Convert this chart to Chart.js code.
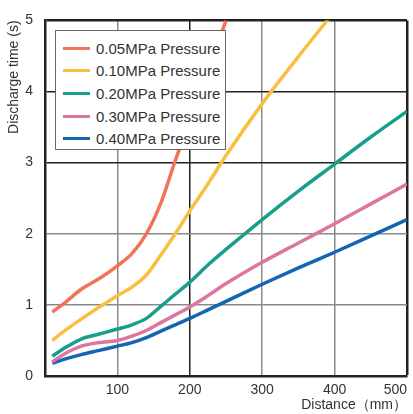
<!DOCTYPE html>
<html>
<head>
<meta charset="utf-8">
<script src="https://cdn.jsdelivr.net/npm/chart.js@4"></script>
<style>
  html, body { margin: 0; padding: 0; background: #fff; }
  #wrap { position: relative; width: 413px; height: 414px; }
  #legenda {
    position: absolute; left: 55px; top: 30px; width: 171px; height: 120px;
    border: 1px solid #666; background: #fff; box-sizing: border-box;
    font-family: "Liberation Sans", Arial, sans-serif; font-size: 15px; color: #333;
    padding-top: 6px;
  }
  .item { display: flex; align-items: center; height: 22.6px; }
  .amostra { width: 27px; height: 3px; margin: 0 6px 0 7px; }
</style>
</head>
<body>
<div id="wrap">
  <canvas id="grafico"></canvas>
  <div id="legenda"></div>
</div>
<script>
const distancias = [10, 25, 50, 75, 100, 120, 140, 160, 180, 200, 225, 250, 300, 350, 400, 450, 500];
const pressao005 = [0.9, 1.01, 1.22, 1.37, 1.55, 1.72, 2.0, 2.43, 3.03, 3.58, 4.28, 5.0, null, null, null, null, null];
const pressao010 = [0.5, 0.62, 0.8, 0.97, 1.13, 1.25, 1.42, 1.7, 2.0, 2.32, 2.7, 3.1, 3.83, 4.49, 5.13, null, null];
const pressao020 = [0.28, 0.38, 0.52, 0.59, 0.66, 0.72, 0.81, 0.98, 1.15, 1.32, 1.56, 1.78, 2.2, 2.6, 2.98, 3.36, 3.72];
const pressao030 = [0.2, 0.3, 0.42, 0.47, 0.5, 0.56, 0.64, 0.75, 0.86, 0.97, 1.13, 1.3, 1.6, 1.87, 2.14, 2.42, 2.7];
const pressao040 = [0.18, 0.23, 0.3, 0.36, 0.42, 0.47, 0.54, 0.63, 0.72, 0.81, 0.93, 1.05, 1.29, 1.52, 1.74, 1.97, 2.2];

const rotulos = ['0.05MPa Pressure', '0.10MPa Pressure', '0.20MPa Pressure', '0.30MPa Pressure', '0.40MPa Pressure'];
const cores = ['#f0735a', '#fbbf3f', '#16a08a', '#dc76a0', '#1565b5'];
const series = [pressao005, pressao010, pressao020, pressao030, pressao040];

const fonte = { family: '"Liberation Sans", Arial, sans-serif', size: 14 };
const escuro = '#222';
const cinza = '#8a8a8a';

const datasets = series.map((valores, i) => ({
  label: rotulos[i],
  data: distancias.map((x, j) => ({ x: x, y: valores[j] })).filter(p => p.y !== null),
  borderColor: cores[i],
  borderWidth: 3.5,
  pointRadius: 0,
  cubicInterpolationMode: 'monotone',
  fill: false
}));

new Chart(document.getElementById('grafico'), {
  type: 'line',
  data: { datasets: datasets },
  options: {
    responsive: true,
    maintainAspectRatio: false,
    animation: false,
    layout: { padding: { left: 6, top: 14, right: 5, bottom: 0 } },
    plugins: { legend: { display: false }, tooltip: { enabled: false } },
    scales: {
      x: {
        type: 'linear', min: 0, max: 500,
        afterFit: s => { s.height = 38; },
        ticks: {
          stepSize: 100, padding: 6, color: '#333', font: fonte, align: 'inner',
          callback: v => v === 0 ? '' : v
        },
        grid: {
          drawTicks: false,
          color: c => (c.tick.value === 200 || c.tick.value === 500) ? escuro : cinza,
          lineWidth: c => c.tick.value === 500 ? 2.5 : 1.5
        },
        border: { color: escuro, width: 2.5 },
        title: { display: true, text: 'Distance（mm）', align: 'end', color: '#333', font: fonte, padding: 0 }
      },
      y: {
        min: 0, max: 5,
        afterFit: s => { s.width = 39; },
        ticks: { stepSize: 1, padding: 12, color: '#333', font: fonte },
        grid: {
          drawTicks: false,
          color: c => c.tick.value >= 3 ? escuro : cinza,
          lineWidth: c => c.tick.value === 5 ? 2.5 : 1.5
        },
        border: { color: escuro, width: 2.5 },
        title: { display: true, text: 'Discharge time (s)', align: 'end', color: '#333', font: fonte, padding: 0 }
      }
    }
  }
});

// legenda em HTML, dentro da área do gráfico
document.getElementById('legenda').innerHTML = rotulos.map((r, i) => `
  <div class="item"><span class="amostra" style="background:${cores[i]}"></span>${r}</div>
`).join('');
</script>
</body>
</html>
